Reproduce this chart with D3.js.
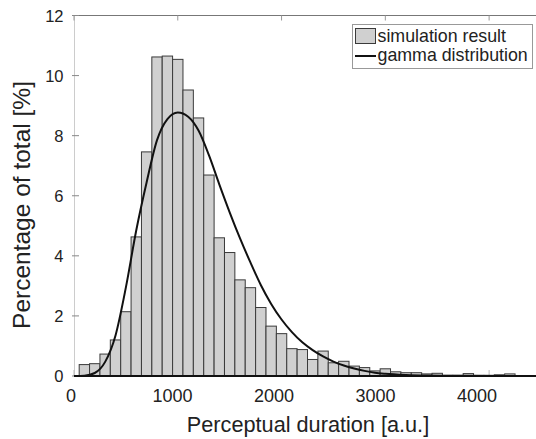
<!DOCTYPE html>
<html>
<head>
<meta charset="utf-8">
<script src="https://cdn.jsdelivr.net/npm/d3@7/dist/d3.min.js"></script>
<style>
  body { margin: 0; background: #fff; }
  svg { display: block; font-family: "Liberation Sans", Arial, sans-serif; }
</style>
</head>
<body>
<svg width="536" height="439"></svg>
<script>
// histogram bins: 100 wide, first bin starts at 50
const binStart = 50;
const binWidth = 100;
const simPercent = [0.38, 0.41, 0.73, 1.20, 2.14, 4.63, 7.46, 10.62, 10.65, 10.54,
  9.52, 8.59, 6.69, 4.60, 4.11, 3.20, 2.94, 2.28, 1.66, 1.41,
  0.91, 0.88, 0.55, 0.83, 0.44, 0.49, 0.33, 0.28, 0.17, 0.24,
  0.14, 0.11, 0.11, 0.07, 0.09, 0.02, 0.02, 0.08, 0.02, 0.02,
  0.04, 0.07, 0.01, 0.01];

// gamma fit curve
const gammaX = [0, 100, 200, 300, 400, 500, 600, 700, 800, 900, 1000,
  1100, 1200, 1300, 1400, 1500, 1600, 1700, 1800, 1900, 2000,
  2100, 2200, 2300, 2400, 2500, 2600, 2700, 2800, 2900, 3000,
  3200, 3400, 3700, 4500];
const gammaY = [0, 0.01, 0.1, 0.47, 1.35, 2.95, 4.85, 6.45, 7.85, 8.55, 8.77,
  8.63, 8.17, 7.35, 6.38, 5.45, 4.58, 3.78, 3.03, 2.4, 1.88,
  1.46, 1.12, 0.86, 0.65, 0.48, 0.35, 0.25, 0.17, 0.11, 0.075,
  0.035, 0.015, 0.005, 0];

const xTicks = [0, 1000, 2000, 3000, 4000];
const yTicks = [0, 2, 4, 6, 8, 10, 12];
const legendLabels = ["simulation result", "gamma distribution"];

const svg = d3.select("svg");
const m = { left: 74, right: 541, top: 15.5, bottom: 376 };

const x = d3.scaleLinear().domain([0, 4500]).range([m.left, m.right]);
const y = d3.scaleLinear().domain([0, 12]).range([m.bottom, m.top]);

// box
svg.append("line").attr("x1", m.left).attr("x2", m.right).attr("y1", m.top).attr("y2", m.top)
  .attr("stroke", "#777").attr("stroke-width", 1);
svg.append("line").attr("x1", m.left + 0.5).attr("x2", m.left + 0.5).attr("y1", m.top).attr("y2", m.bottom)
  .attr("stroke", "#ccc").attr("stroke-width", 1);

// inward ticks on top / bottom / left / right
svg.append("g").selectAll("line").data(xTicks).join("line")
  .attr("x1", d => x(d)).attr("x2", d => x(d)).attr("y1", m.top).attr("y2", m.top + 5)
  .attr("stroke", "#999");
svg.append("g").selectAll("line").data(xTicks).join("line")
  .attr("x1", d => x(d)).attr("x2", d => x(d)).attr("y1", m.bottom).attr("y2", m.bottom - 6)
  .attr("stroke", "#bbb");
svg.append("g").selectAll("line").data(yTicks).join("line")
  .attr("x1", m.left - 2).attr("x2", m.left + 5).attr("y1", d => y(d)).attr("y2", d => y(d))
  .attr("stroke", "#888");
svg.append("g").selectAll("line").data(yTicks).join("line")
  .attr("x1", m.right - 5).attr("x2", m.right).attr("y1", d => y(d)).attr("y2", d => y(d))
  .attr("stroke", "#bbb");

// bars
svg.append("g").selectAll("rect").data(simPercent).join("rect")
  .attr("x", (d, i) => x(binStart + i * binWidth))
  .attr("width", (d, i) => x(binStart + (i + 1) * binWidth) - x(binStart + i * binWidth))
  .attr("y", d => y(d))
  .attr("height", d => y(0) - y(d))
  .attr("fill", "#d0d0d0")
  .attr("stroke", "#3a3a3a")
  .attr("stroke-width", 1);

// baseline
svg.append("line").attr("x1", m.left).attr("x2", m.right).attr("y1", m.bottom).attr("y2", m.bottom)
  .attr("stroke", "#111").attr("stroke-width", 2);

// gamma curve
const line = d3.line().x(d => x(d[0])).y(d => y(d[1])).curve(d3.curveMonotoneX);
svg.append("path").datum(d3.zip(gammaX, gammaY))
  .attr("d", line)
  .attr("fill", "none")
  .attr("stroke", "#111")
  .attr("stroke-width", 2);

// tick labels
svg.append("g").selectAll("text").data(xTicks).join("text")
  .attr("x", d => x(d) - 3 - 2.3 * d / 1000)
  .attr("y", 402)
  .attr("text-anchor", "middle")
  .attr("font-size", 18)
  .attr("fill", "#222")
  .text(d => d);
svg.append("g").selectAll("text").data(yTicks).join("text")
  .attr("x", 63.5)
  .attr("y", d => y(d) + 6)
  .attr("text-anchor", "end")
  .attr("font-size", 16.5)
  .attr("fill", "#222")
  .text(d => d);

// axis titles
svg.append("text")
  .attr("transform", "translate(30,205) rotate(-90)")
  .attr("text-anchor", "middle")
  .attr("font-size", 24.5)
  .attr("fill", "#222")
  .text("Percentage of total [%]");
svg.append("text")
  .attr("x", 308).attr("y", 432)
  .attr("text-anchor", "middle")
  .attr("font-size", 21.7)
  .attr("fill", "#222")
  .text("Perceptual duration [a.u.]");

// legend
const lg = svg.append("g");
lg.append("rect").attr("x", 352.5).attr("y", 24.5).attr("width", 180).attr("height", 44)
  .attr("fill", "#fff").attr("stroke", "#999");
lg.append("rect").attr("x", 355.5).attr("y", 28.5).attr("width", 20).attr("height", 15)
  .attr("fill", "#d0d0d0").attr("stroke", "#3a3a3a");
lg.append("line").attr("x1", 355).attr("x2", 376).attr("y1", 56).attr("y2", 56)
  .attr("stroke", "#111").attr("stroke-width", 2);
lg.selectAll("text").data(legendLabels).join("text")
  .attr("x", 377.5)
  .attr("y", (d, i) => 42 + i * 19)
  .attr("font-size", 17.8)
  .attr("fill", "#222")
  .text(d => d);
</script>
</body>
</html>
